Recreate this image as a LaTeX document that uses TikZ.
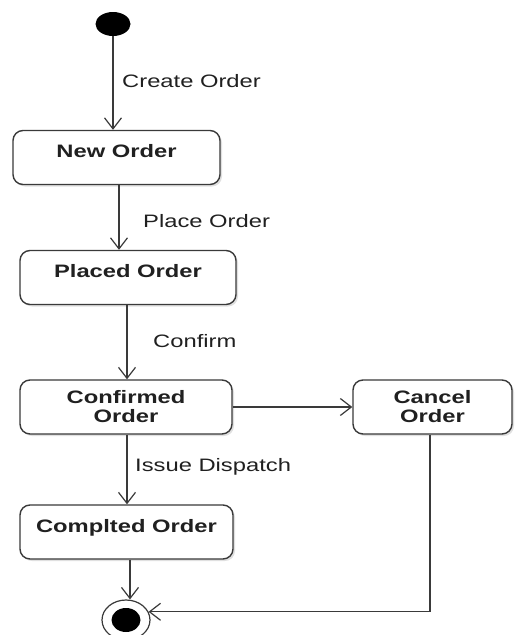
\documentclass[tikz,border=0pt]{standalone}
\usepackage{fontspec}
\setmainfont{Liberation Sans}[FakeStretch=1.32]
\usetikzlibrary{arrows.meta,shapes.geometric,shadows}
\definecolor{lineclr}{HTML}{3A3A3A}
\definecolor{textclr}{HTML}{202020}
\begin{document}
\begin{tikzpicture}[x=1pt,y=-1pt,
  font=\fontsize{18}{19}\selectfont, text=textclr,
  statebox/.style={draw=lineclr, line width=1.4pt, rounded corners=10pt, fill=white,
    inner sep=0pt, font=\fontsize{18}{19}\selectfont\bfseries,
    drop shadow={shadow xshift=2pt, shadow yshift=-2pt, fill=black, opacity=0.12}},
  oneline/.style={text height=27pt, text depth=27pt},
  twoline/.style={align=center},
  trans/.style={draw=lineclr, line width=1.2pt,
    -{Straight Barb[length=11pt, width=17pt, line width=1.2pt]}},
  lbl/.style={anchor=base west, inner sep=0pt}]

  % canvas
  \fill[white] (0,0) rectangle (515,635);
  \useasboundingbox (0,0) rectangle (515,635);

  % pseudo states
  \node[ellipse, fill=black, minimum width=35pt, minimum height=24pt, inner sep=0pt] (init) at (113,24) {};
  \node[ellipse, draw=lineclr, line width=1.2pt, fill=white, minimum width=48pt, minimum height=40pt,
    inner sep=0pt,
    path picture={\fill[black] (path picture bounding box.center) ellipse [x radius=14.5pt, y radius=12pt];}]
    (fin) at (126,620) {};

  % states
  \node[statebox, oneline, minimum width=207pt] (new) at (116.5,157.5) {New Order};
  \node[statebox, oneline, minimum width=216pt] (placed) at (128,277.5) {Placed Order};
  \node[statebox, twoline, minimum width=212pt, minimum height=54pt] (confirmed) at (126,407) {Confirmed\\Order};
  \node[statebox, twoline, minimum width=159pt, minimum height=54pt] (cancel) at (432.5,407) {Cancel\\Order};
  \node[statebox, oneline, minimum width=213pt] (comp) at (126.5,532) {Complted Order};

  % transitions
  \draw[trans] (init) -- (init |- new.north);
  \draw[trans] ([xshift=2.5pt]new.south) -- ([xshift=2.5pt]new.south |- placed.north);
  \draw[trans] ([xshift=-1pt]placed.south) -- ([xshift=-1pt]placed.south |- confirmed.north);
  \draw[trans] ([xshift=1pt]confirmed.south) -- ([xshift=1pt]confirmed.south |- comp.north);
  \draw[trans] (confirmed.east) -- (cancel.west);
  \draw[trans] ([xshift=3.5pt]comp.south) -- ([xshift=3.5pt]comp.south |- fin.north);
  \draw[trans] ([xshift=-2.5pt]cancel.south) |- (fin.20);

  % transition labels
  \node[lbl] (lcreate) at (122,87) {Create Order};
  \node[lbl] (lplace) at (143,227) {Place Order};
  \node[lbl] (lconfirm) at (153,347) {Confirm};
  \node[lbl] (lissue) at (135,471) {Issue Dispatch};
\end{tikzpicture}
\end{document}
